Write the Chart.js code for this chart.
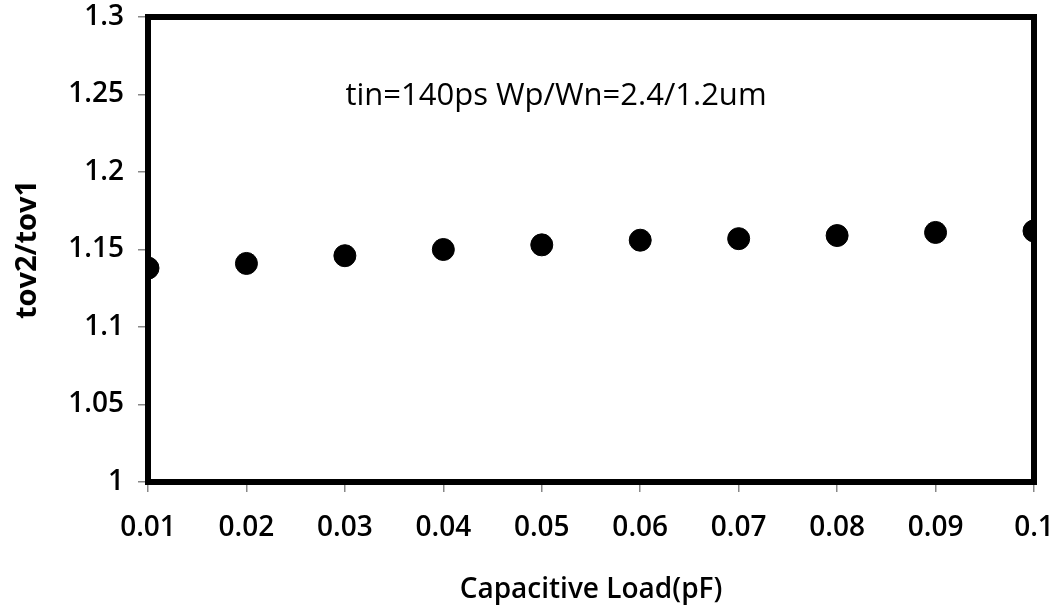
<!DOCTYPE html>
<html>
<head>
<meta charset="utf-8">
<script src="https://cdn.jsdelivr.net/npm/chart.js@4/dist/chart.umd.min.js"></script>
<style>
  html, body { margin: 0; padding: 0; background: #fff; }
  #wrap { width: 1062px; height: 611px; }
</style>
</head>
<body>
<div id="wrap"><canvas id="chart" width="1062" height="611"></canvas></div>
<script>
const loads = [0.01, 0.02, 0.03, 0.04, 0.05, 0.06, 0.07, 0.08, 0.09, 0.1];
const ratio = [1.138, 1.141, 1.146, 1.150, 1.153, 1.156, 1.157, 1.159, 1.161, 1.162];
const xTickLabels = ['0.01', '0.02', '0.03', '0.04', '0.05', '0.06', '0.07', '0.08', '0.09', '0.1'];
const yTickLabels = ['1', '1.05', '1.1', '1.15', '1.2', '1.25', '1.3'];
const note = 'tin=140ps Wp/Wn=2.4/1.2um';

const fontFamily = '"Open Sans", "Noto Sans", sans-serif';

// thick frame round the plot plus the note inside it
const framePlugin = {
  id: 'frame',
  beforeDatasetsDraw(chart) {
    const { ctx, chartArea: a } = chart;
    ctx.save();
    ctx.strokeStyle = '#000';
    ctx.lineWidth = 6;
    ctx.strokeRect(a.left, a.top, a.right - a.left, a.bottom - a.top);
    ctx.font = '31px ' + fontFamily;
    ctx.fillStyle = '#000';
    ctx.textAlign = 'center';
    ctx.textBaseline = 'middle';
    ctx.fillText(note, 556, 96);
    ctx.restore();
  }
};

const ctx = document.getElementById('chart').getContext('2d');
new Chart(ctx, {
  type: 'scatter',
  data: {
    datasets: [{
      data: loads.map((x, i) => ({ x: x, y: ratio[i] })),
      backgroundColor: '#000',
      borderColor: '#000',
      pointRadius: 11,
      pointHoverRadius: 11
    }]
  },
  options: {
    responsive: false,
    animation: false,
    layout: { padding: { top: 17, right: 28, left: 0, bottom: 0 } },
    plugins: { legend: { display: false }, tooltip: { enabled: false } },
    scales: {
      x: {
        type: 'linear',
        min: 0.01,
        max: 0.1,
        afterBuildTicks(scale) {
          scale.ticks = loads.map(v => ({ value: v }));
        },
        afterFit(scale) {
          scale.height = 129;
          scale.paddingLeft = 0;
          scale.paddingRight = 0;
        },
        grid: { display: true, drawOnChartArea: false, drawTicks: true, tickLength: 10, color: '#888', lineWidth: 1.5 },
        border: { display: false },
        ticks: {
          color: '#000',
          padding: 19,
          maxRotation: 0,
          autoSkip: false,
          font: { family: fontFamily, size: 28, weight: '600' },
          callback: (v, i) => xTickLabels[i]
        },
        title: {
          display: true,
          text: 'Capacitive Load(pF)',
          color: '#000',
          font: { family: fontFamily, size: 28, weight: '600' },
          padding: { top: 10, bottom: 4 }
        }
      },
      y: {
        min: 1,
        max: 1.3,
        afterBuildTicks(scale) {
          scale.ticks = yTickLabels.map(s => ({ value: parseFloat(s) }));
        },
        afterFit(scale) {
          scale.width = 148;
          scale.paddingTop = 0;
          scale.paddingBottom = 0;
        },
        grid: { display: true, drawOnChartArea: false, drawTicks: true, tickLength: 10, color: '#888', lineWidth: 1.5 },
        border: { display: false },
        ticks: {
          color: '#000',
          padding: 14,
          font: { family: fontFamily, size: 28, weight: '600' },
          callback: (v, i) => yTickLabels[i]
        },
        title: {
          display: true,
          text: 'tov2/tov1',
          color: '#000',
          font: { family: fontFamily, size: 29, weight: 'bold' },
          padding: { top: 10, bottom: 0 }
        }
      }
    }
  },
  plugins: [framePlugin]
});
</script>
</body>
</html>
